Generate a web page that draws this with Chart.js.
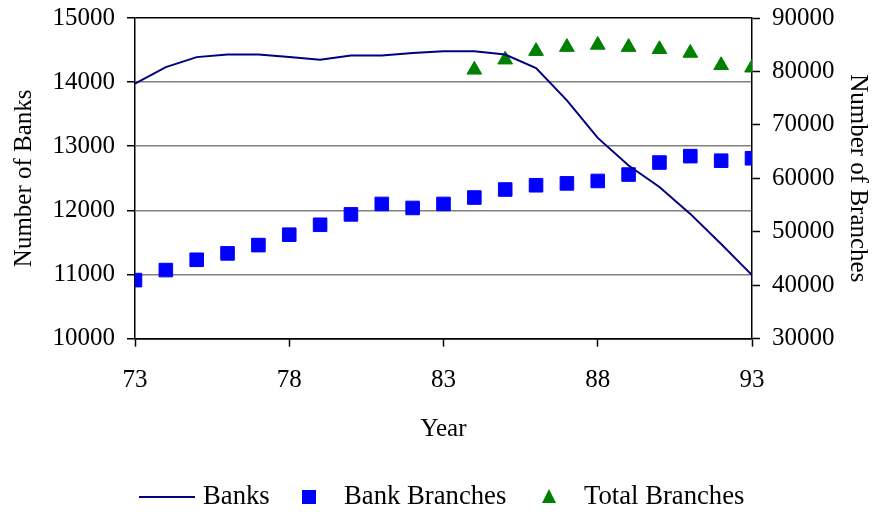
<!DOCTYPE html>
<html><head><meta charset="utf-8">
<script src="https://cdn.jsdelivr.net/npm/chart.js@4"></script>
<style>html,body{margin:0;padding:0;background:#fff;overflow:hidden}</style>
</head><body>
<canvas id="c" width="876" height="512"></canvas>
<script>
const years = [73,74,75,76,77,78,79,80,81,82,83,84,85,86,87,88,89,90,91,92,93];
const banks = [13975,14235,14390,14430,14430,14390,14350,14415,14415,14455,14480,14480,14430,14220,13715,13130,12700,12365,11945,11475,10990];
const bankBranches = [40950,42825,44750,45950,47500,49450,51300,53250,55200,54450,55200,56400,57900,58700,59050,59500,60700,62950,64150,63300,63750];
const totalYears = [84,85,86,87,88,89,90,91,92,93];
const totalBranches = [80300,82200,83800,84550,84950,84550,84150,83450,81150,80700];
const xTickLabels = [73,78,83,88,93];
const leftTicks = [10000,11000,12000,13000,14000,15000];
const rightTicks = [30000,40000,50000,60000,70000,80000,90000];

const FONT = '"Liberation Serif", "Times New Roman", serif';
const tickFont = {family: FONT, size: 25};
const titleFont = {family: FONT, size: 25};

const legendPlugin = {
  id: 'customLegend',
  afterDraw(chart) {
    const ctx = chart.ctx;
    const ds = chart.data.datasets;
    const y = 497;
    ctx.save();
    ctx.font = '26.7px ' + FONT;
    ctx.textBaseline = 'middle';
    ctx.textAlign = 'left';
    // Banks (line)
    ctx.strokeStyle = ds[0].borderColor; ctx.lineWidth = 2;
    ctx.beginPath(); ctx.moveTo(139, y); ctx.lineTo(195, y); ctx.stroke();
    ctx.fillStyle = '#000'; ctx.fillText(ds[0].label, 203, y);
    // Bank Branches (square)
    ctx.fillStyle = ds[1].backgroundColor; ctx.fillRect(302, y - 7, 14, 14);
    ctx.fillStyle = '#000'; ctx.fillText(ds[1].label, 344, y);
    // Total Branches (triangle)
    ctx.fillStyle = ds[2].backgroundColor;
    ctx.beginPath(); ctx.moveTo(549, y - 8); ctx.lineTo(556, y + 6); ctx.lineTo(542, y + 6); ctx.closePath(); ctx.fill();
    ctx.fillStyle = '#000'; ctx.fillText(ds[2].label, 584, y);
    ctx.restore();
  }
};

new Chart(document.getElementById('c'), {
  type: 'line',
  data: {
    datasets: [
      {
        label: 'Banks',
        data: years.map((x, i) => ({x, y: banks[i]})),
        yAxisID: 'y',
        borderColor: '#000080',
        backgroundColor: '#000080',
        borderWidth: 2,
        pointRadius: 0,
        tension: 0,
        fill: false
      },
      {
        label: 'Bank Branches',
        data: years.map((x, i) => ({x, y: bankBranches[i]})),
        yAxisID: 'y1',
        showLine: false,
        pointStyle: 'rect',
        pointRadius: 9.6,
        pointBorderWidth: 1,
        borderColor: '#0000FF',
        backgroundColor: '#0000FF'
      },
      {
        label: 'Total Branches',
        data: totalYears.map((x, i) => ({x, y: totalBranches[i]})),
        yAxisID: 'y1',
        showLine: false,
        pointStyle: 'triangle',
        pointRadius: 8.5,
        pointBorderWidth: 1,
        borderColor: '#008000',
        backgroundColor: '#008000'
      }
    ]
  },
  options: {
    responsive: false,
    animation: false,
    events: [],
    layout: {padding: {top: 18, bottom: 67.4, left: 0, right: 0}},
    plugins: {legend: {display: false}, tooltip: {enabled: false}},
    scales: {
      x: {
        type: 'linear',
        min: 73, max: 93,
        afterBuildTicks: s => { s.ticks = xTickLabels.map(v => ({value: v})); },
        ticks: {font: tickFont, color: '#000', padding: 19, maxRotation: 0, callback: v => String(v)},
        grid: {drawOnChartArea: false, drawTicks: true, tickLength: 8, tickColor: '#000', tickWidth: 1.5},
        border: {color: '#000', width: 1.5},
        title: {display: true, text: 'Year', font: titleFont, color: '#000', padding: {top: 0, bottom: 0}}
      },
      y: {
        position: 'left',
        min: 10000, max: 15000,
        afterBuildTicks: s => { s.ticks = leftTicks.map(v => ({value: v})); },
        afterFit: s => { s.width = 135; s.paddingTop = 0; s.paddingBottom = 0; },
        ticks: {font: tickFont, color: '#000', padding: 12, callback: v => String(v)},
        grid: {
          color: c => (c.tick && (c.tick.value === 15000 || c.tick.value === 10000)) ? '#000' : '#808080',
          lineWidth: 1.5,
          drawTicks: true, tickLength: 8, tickColor: '#000', tickWidth: 1.5
        },
        border: {color: '#000', width: 1.5},
        title: {display: true, text: 'Number of Banks', font: titleFont, color: '#000', padding: {top: 9, bottom: 0}}
      },
      y1: {
        position: 'right',
        min: 30000, max: 90000,
        afterBuildTicks: s => { s.ticks = rightTicks.map(v => ({value: v})); },
        afterFit: s => { s.width = 124; s.paddingTop = 0; s.paddingBottom = 0; },
        ticks: {font: tickFont, color: '#000', padding: 12, callback: v => String(v)},
        grid: {drawOnChartArea: false, drawTicks: true, tickLength: 8, tickColor: '#000', tickWidth: 1.5},
        border: {color: '#000', width: 1.5},
        title: {display: true, text: 'Number of Branches', font: titleFont, color: '#000', padding: {top: 3, bottom: 0}}
      }
    }
  },
  plugins: [legendPlugin]
});
</script>
</body></html>
